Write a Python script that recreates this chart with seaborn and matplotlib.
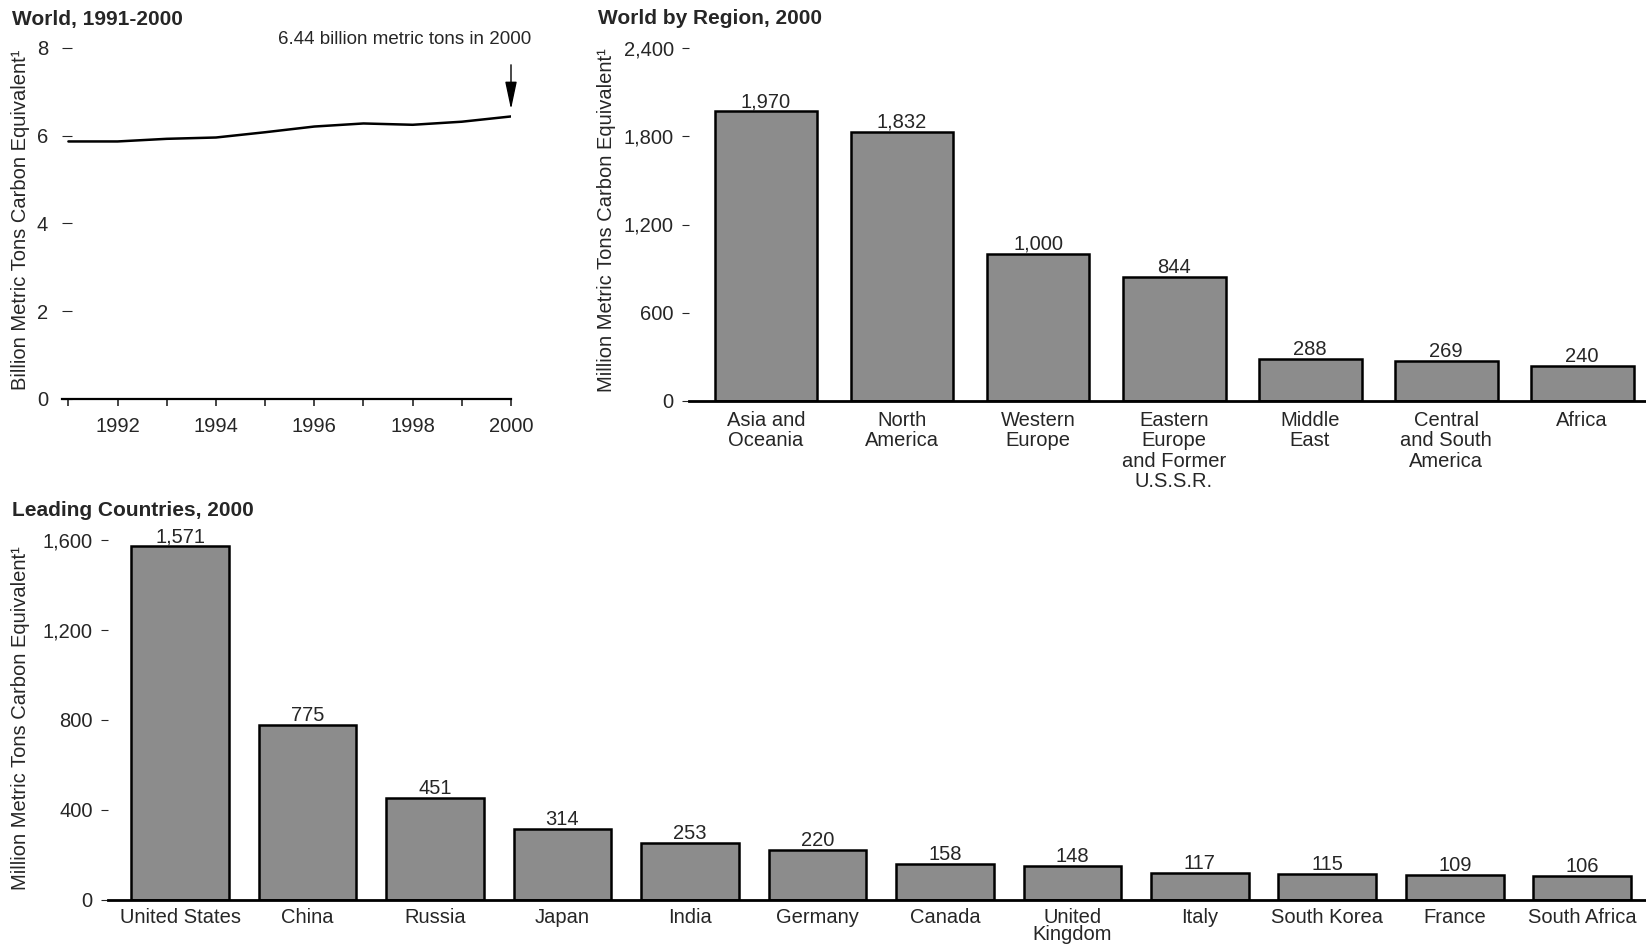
import numpy as np
import pandas as pd
import matplotlib
matplotlib.use('Agg')
import matplotlib.pyplot as plt
from matplotlib.ticker import StrMethodFormatter
import seaborn as sns

# data
years = [1991, 1992, 1993, 1994, 1995, 1996, 1997, 1998, 1999, 2000]
world = [5.87, 5.87, 5.93, 5.96, 6.08, 6.21, 6.28, 6.25, 6.32, 6.44]

regions = ['Asia and\nOceania', 'North\nAmerica', 'Western\nEurope',
           'Eastern\nEurope\nand Former\nU.S.S.R.', 'Middle\nEast',
           'Central\nand South\nAmerica', 'Africa']
region_vals = [1970, 1832, 1000, 844, 288, 269, 240]

countries = ['United States', 'China', 'Russia', 'Japan', 'India', 'Germany',
             'Canada', 'United\nKingdom', 'Italy', 'South Korea', 'France',
             'South Africa']
country_vals = [1571, 775, 451, 314, 253, 220, 158, 148, 117, 115, 109, 106]

sns.set_style('white')
plt.rcParams['font.family'] = ['Liberation Sans', 'DejaVu Sans']
plt.rcParams['font.size'] = 14.5

W, H = 1646, 944
fig = plt.figure(figsize=(W / 100, H / 100), dpi=100)


def px_axes(left, right, top, bottom):
    return fig.add_axes([left / W, 1 - bottom / H, (right - left) / W, (bottom - top) / H])


bar_gray = '#8c8c8c'
ylab = 'Million Metric Tons Carbon Equivalent\u00b9'
fs = 14.5

# ---- World, 1991-2000 ----
ax1 = px_axes(62, 511, 48, 399)
sns.lineplot(x=years, y=world, color='black', lw=1.8, ax=ax1)
ax1.set_xlim(1990.87, 2000)
ax1.set_ylim(0, 8)
ax1.set_yticks([0, 2, 4, 6, 8])
ax1.set_xticks(years)
ax1.set_xticklabels([str(y) if y % 2 == 0 else '' for y in years])
for s in ['top', 'right', 'left']:
    ax1.spines[s].set_visible(False)
ax1.spines['bottom'].set_linewidth(1.6)
ax1.spines['bottom'].set_color('black')
ax1.tick_params(axis='y', direction='in', length=7, width=0.8, pad=10, labelsize=fs,
                left=True)
ax1.tick_params(axis='x', direction='out', length=5, width=1.2, pad=8, labelsize=fs,
                bottom=True)
ax1.annotate('', xy=(2000, 6.54), xytext=(2000, 7.68), annotation_clip=False,
             arrowprops=dict(arrowstyle='-|>,head_length=0.85,head_width=0.18',
                             color='black', lw=1, mutation_scale=20))
ax1.text(1997.83, 8.2, '6.44 billion metric tons in 2000', ha='center', va='center',
         fontsize=13.5)
ax1.set_xlabel('')
ax1.set_ylabel('')
fig.text(21 / W, 1 - 220 / H, 'Billion Metric Tons Carbon Equivalent\u00b9',
         rotation=90, ha='center', va='center', fontsize=14.5)
fig.text(12 / W, 1 - 19 / H, 'World, 1991-2000', fontweight='bold', fontsize=15,
         ha='left', va='center')

# ---- World by Region, 2000 ----
ax2 = px_axes(689, 1646, 48, 401)
df_reg = pd.DataFrame({'region': regions, 'value': region_vals})
sns.barplot(data=df_reg, x='region', y='value', color=bar_gray, saturation=1,
            edgecolor='black', linewidth=1.8, width=0.757, ax=ax2)
ax2.set_xlim(-0.566, 6.47)
ax2.set_ylim(0, 2400)
ax2.set_yticks([0, 600, 1200, 1800, 2400])
ax2.yaxis.set_major_formatter(StrMethodFormatter('{x:,.0f}'))
ax2.bar_label(ax2.containers[0], labels=[f'{v:,}' for v in region_vals],
              padding=0, fontsize=fs)
for s in ['top', 'right', 'left']:
    ax2.spines[s].set_visible(False)
ax2.spines['bottom'].set_linewidth(2)
ax2.spines['bottom'].set_color('black')
ax2.tick_params(axis='y', direction='out', length=5, width=0.8, pad=6, labelsize=fs,
                left=True)
ax2.tick_params(axis='x', length=0, pad=7, labelsize=fs)
for lbl in ax2.get_xticklabels():
    lbl.set_linespacing(1.1)
ax2.set_xlabel('')
ax2.set_ylabel('')
fig.text(607 / W, 1 - 220 / H, ylab, rotation=90, ha='center', va='center', fontsize=14.5)
fig.text(598 / W, 1 - 19 / H, 'World by Region, 2000', fontweight='bold', fontsize=15,
         ha='left', va='center')

# ---- Leading Countries, 2000 ----
ax3 = px_axes(108, 1646, 539.5, 899.6)
df_cty = pd.DataFrame({'country': countries, 'value': country_vals})
sns.barplot(data=df_cty, x='country', y='value', color=bar_gray, saturation=1,
            edgecolor='black', linewidth=1.8, width=0.766, ax=ax3)
ax3.set_xlim(-0.565, 11.5)
ax3.set_ylim(0, 1600)
ax3.set_yticks([0, 400, 800, 1200, 1600])
ax3.yaxis.set_major_formatter(StrMethodFormatter('{x:,.0f}'))
ax3.bar_label(ax3.containers[0], labels=[f'{v:,}' for v in country_vals],
              padding=0, fontsize=fs)
for s in ['top', 'right', 'left']:
    ax3.spines[s].set_visible(False)
ax3.spines['bottom'].set_linewidth(2)
ax3.spines['bottom'].set_color('black')
ax3.tick_params(axis='y', direction='out', length=5, width=0.8, pad=6, labelsize=fs,
                left=True)
ax3.tick_params(axis='x', length=0, pad=6, labelsize=fs)
for lbl in ax3.get_xticklabels():
    lbl.set_linespacing(0.9)
ax3.set_xlabel('')
ax3.set_ylabel('')
fig.text(21 / W, 1 - 718 / H, ylab, rotation=90, ha='center', va='center', fontsize=14.5)
fig.text(12 / W, 1 - 511 / H, 'Leading Countries, 2000', fontweight='bold', fontsize=15,
         ha='left', va='center')

fig.savefig('out.png', dpi=100)
